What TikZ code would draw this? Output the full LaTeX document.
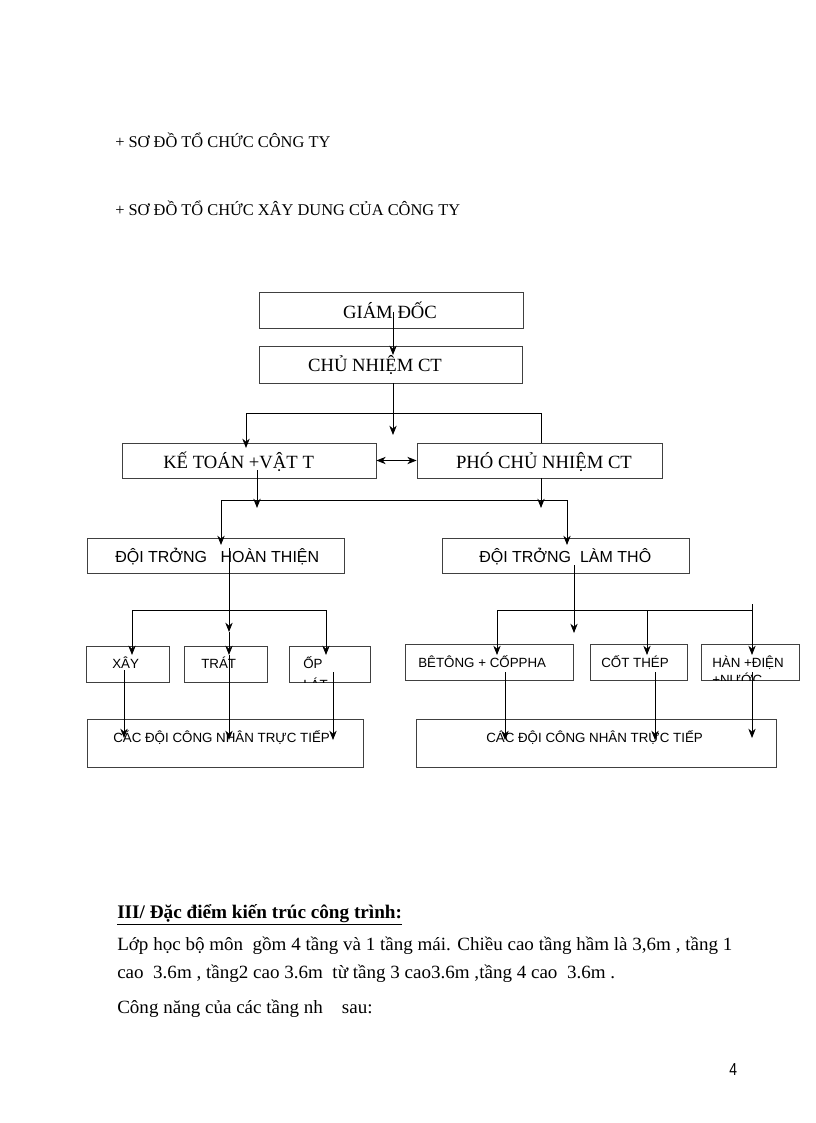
\documentclass[tikz,border=0pt]{standalone}
\usepackage{fontspec}
\setmainfont{Liberation Serif}
\newfontfamily\arialf{Liberation Sans}
\usetikzlibrary{arrows.meta,fit}
\begin{document}
\begin{tikzpicture}[x=0.75pt,y=-0.75pt,
  box/.style={draw=black!75,line width=0.6pt,inner sep=0pt},
  tnr/.style={font=\fontsize{14}{16}\selectfont,inner sep=0pt},
  ari/.style={font=\arialf\fontsize{12}{14}\selectfont,inner sep=0pt},
  aris/.style={font=\arialf\fontsize{10}{12}\selectfont,inner sep=0pt},
  head/.style={font=\fontsize{12.3}{14}\selectfont,inner sep=0pt,anchor=base west},
  body/.style={font=\fontsize{14}{16}\selectfont,inner sep=0pt,anchor=base west},
  ln/.style={line width=0.6pt},
  arr/.style={line width=0.6pt,-{Stealth[length=7pt,width=5.5pt]}},
  darr/.style={line width=0.6pt,{Stealth[length=7pt,width=5.5pt]}-{Stealth[length=7pt,width=5.5pt]}}]
\useasboundingbox (0,0) rectangle (816,1123);
% headings
\node[head] (h1) at (115,148) {+ SƠ ĐỒ TỔ CHỨC CÔNG TY};
\node[head] (h2) at (115,216) {+ SƠ ĐỒ TỔ CHỨC XÂY DUNG CỦA CÔNG TY};
% level 1-2
\node[box,fit={(259,292) (523,328)}] (gd) {};
\node[tnr,anchor=base] (gdt) at (390,318) {GIÁM ĐỐC};
\node[box,fit={(259,346) (522,383)}] (cn) {};
\node[tnr,anchor=base] (cnt) at (375,371) {CHỦ NHIỆM CT};
% level 3
\node[box,fit={(122,443) (376,478)}] (kt) {};
\node[tnr,anchor=base west] (ktt) at (163,468) {KẾ TOÁN +VẬT T};
\node[box,fit={(417,443) (662,478)}] (pc) {};
\node[tnr,anchor=base] (pct) at (544,468) {PHÓ CHỦ NHIỆM CT};
% level 4
\node[box,fit={(87,538) (344,573)}] (ht) {};
\node[ari,anchor=base west] (htt) at (115,562) {ĐỘI TRỞNG \ \ HOÀN THIỆN};
\node[box,fit={(442,538) (689,573)}] (lt) {};
\node[ari,anchor=base west] (ltt) at (479,562) {ĐỘI TRỞNG \ LÀM THÔ};
% level 5 left
\node[box,fit={(86,646) (169,682)}] (xay) {};
\node[aris,anchor=base west] (xayt) at (112,668) {XÂY};
\node[box,fit={(184,646) (267,682)}] (trat) {};
\node[aris,anchor=base west] (tratt) at (201,668) {TRÁT};
\node[box,fit={(289,646) (370,682)}] (op) {};
\node[aris,anchor=base west] (opt) at (303,668) {ỐP};
\begin{scope}
\clip (289,646) rectangle (370,682);
\node[aris,anchor=base west] (opt2) at (303,689) {LÁT};
\end{scope}
% level 5 right
\node[box,fit={(405,644) (573,680)}] (bt) {};
\node[aris,anchor=base west] (btt) at (418,667) {BÊTÔNG + CỐPPHA};
\node[box,fit={(590,644) (687,680)}] (ctp) {};
\node[aris,anchor=base west] (ctpt) at (601,667) {CỐT THÉP};
\node[box,fit={(701,644) (799,680)}] (han) {};
\node[aris,anchor=base west] (hant) at (712,667) {HÀN +ĐIỆN};
\begin{scope}
\clip (701,644) rectangle (799,680);
\node[aris,anchor=base west] (hant2) at (712,684) {+NƯỚC};
\end{scope}
% level 6
\node[box,fit={(87,719) (363,767)}] (cdl) {};
\node[aris,anchor=base west] (cdlt) at (113,742) {CÁC ĐỘI CÔNG NHÂN TRỰC TIẾP};
\node[box,fit={(416,719) (776,767)}] (cdr) {};
\node[aris,anchor=base west] (cdrt) at (486,742) {CÁC ĐỘI CÔNG NHÂN TRỰC TIẾP};
% coordinates
\coordinate (a1s) at (393,312);
\coordinate (a1e) at (393,355);
\coordinate (a2e) at (393,435);
\coordinate (j1l) at (246,413);
\coordinate (j1r) at (541,413);
\coordinate (a3e) at (246,448);
\coordinate (a4s) at (257,470);
\coordinate (a4e) at (257,508);
\coordinate (a5e) at (541,508);
\coordinate (j2l) at (221,500);
\coordinate (j2r) at (567,500);
\coordinate (a6e) at (221,545);
\coordinate (a7e) at (567,545);
\coordinate (a8s) at (229,548);
\coordinate (a8e) at (229,632);
\coordinate (a8f) at (229,655);
\coordinate (a8g) at (229,740);
\coordinate (j3l) at (132,610);
\coordinate (j3r) at (326,610);
\coordinate (a9e) at (132,655);
\coordinate (a10e) at (326,655);
\coordinate (a11s) at (124,670);
\coordinate (a11e) at (124,738);
\coordinate (a12s) at (333,672);
\coordinate (a12e) at (333,740);
\coordinate (b1s) at (574,565);
\coordinate (b1e) at (574,633);
\coordinate (j4l) at (497,610);
\coordinate (j4r) at (752,610);
\coordinate (j4t) at (752,604);
\coordinate (b2e) at (497,655);
\coordinate (b3t) at (647,610);
\coordinate (b3e) at (647,655);
\coordinate (b4e) at (752,655);
\coordinate (b5s) at (505,672);
\coordinate (b5e) at (505,740);
\coordinate (b6s) at (655,672);
\coordinate (b6e) at (655,740);
\coordinate (b7s) at (752,672);
\coordinate (b7e) at (752,738);
% connectors
\draw[arr] (a1s) -- (a1e);
\draw[arr] (cn.south -| a1s) -- (a2e);
\draw[ln] (j1r |- pc.north) -- (j1r) -- (j1l);
\draw[arr] (j1l) -- (a3e);
\draw[darr] (kt.east) -- (pc.west);
\draw[arr] (a4s) -- (a4e);
\draw[arr] (pc.south -| a5e) -- (a5e);
\draw[ln] (j2l) -- (j2r);
\draw[arr] (j2l) -- (a6e);
\draw[arr] (j2r) -- (a7e);
\draw[arr] (a8s) -- (a8e);
\draw[arr] (a8e) -- (a8f);
\draw[arr] (a8f) -- (a8g);
\draw[ln] (j3l) -- (j3r);
\draw[arr] (j3l) -- (a9e);
\draw[arr] (j3r) -- (a10e);
\draw[arr] (a11s) -- (a11e);
\draw[arr] (a12s) -- (a12e);
\draw[arr] (b1s) -- (b1e);
\draw[ln] (j4l) -- (j4r) -- (j4t);
\draw[arr] (j4l) -- (b2e);
\draw[arr] (b3t) -- (b3e);
\draw[arr] (j4r) -- (b4e);
\draw[arr] (b5s) -- (b5e);
\draw[arr] (b6s) -- (b6e);
\draw[arr] (b7s) -- (b7e);
% body text
\node[body,font=\bfseries\fontsize{14.4}{16}\selectfont] (sec) at (117,918) {\underline{III/ Đặc điểm kiến trúc công trình:}};
\node[body] (p1) at (117,950) {\scalebox{1.02}[1]{Lớp học bộ môn\ \ gồm 4 tầng và 1 tầng mái. Chiều cao tầng hầm là 3,6m , tầng 1}};
\node[body] (p2) at (117,978) {\scalebox{1.02}[1]{cao\ \ 3.6m , tầng2 cao 3.6m\ \ từ tầng 3 cao3.6m ,tầng 4 cao\ \ 3.6m .}};
\node[body] (p3) at (117,1013) {\scalebox{1.02}[1]{Công năng của các tầng nh\ \ \ \ sau:}};
\node[body,font=\arialf\fontsize{13}{15}\selectfont] (pg) at (729,1075) {\scalebox{0.8}[1]{4}};
\end{tikzpicture}
\end{document}
